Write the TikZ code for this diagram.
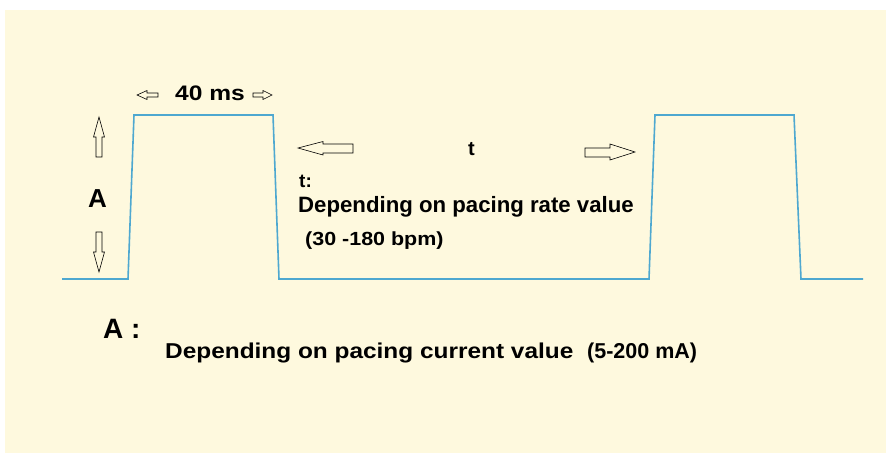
\documentclass[tikz,border=0pt]{standalone}
\usepackage{graphicx}
\usepackage{fontspec}
\setmainfont{Liberation Sans}
\definecolor{bgyellow}{RGB}{254,249,222}
\definecolor{wave}{RGB}{78,168,208}
\tikzset{
  lbl/.style={inner sep=0pt, anchor=base west, font=\bfseries},
  harr/.style={draw=black, line width=0.6pt, fill=bgyellow, line join=miter},
  wavel/.style={draw=wave, line width=1.6pt, line join=miter}
}
\newcommand{\fsz}[1]{\fontsize{#1}{#1}\selectfont}
\newcommand{\wide}[2]{\scalebox{#1}[1]{#2}}
\begin{document}
\begin{tikzpicture}[x=1pt,y=-1pt]
\useasboundingbox (0,0) rectangle (886,459);
\fill[white] (0,0) rectangle (886,459);
\fill[bgyellow] (5,10) rectangle (886,453);
% waveform
\draw[wavel] (62,279) -- (128,279) -- (134,115) -- (273,115) -- (279,279)
  -- (649,279) -- (655,115) -- (794,115) -- (801,279) -- (863,279);
% small arrows around 40 ms
\draw[harr] (137,95) -- (147,90.5) -- (147,93) -- (158,93) -- (158,97) -- (147,97) -- (147,99.5) -- cycle;
\draw[harr] (272,95) -- (263,90.5) -- (263,93) -- (253,93) -- (253,97) -- (263,97) -- (263,99.5) -- cycle;
\node[lbl, font=\bfseries\fsz{21}] (w40) at (175,100) {\wide{1.17}{40 ms}};
% vertical arrows for A
\draw[harr] (99,117) -- (93.5,137) -- (96,137) -- (96,157) -- (102,157) -- (102,137) -- (104.5,137) -- cycle;
\draw[harr] (99,272) -- (93.5,252) -- (96,252) -- (96,232) -- (102,232) -- (102,252) -- (104.5,252) -- cycle;
\node[lbl, font=\bfseries\fsz{26}] (amp) at (88,207) {A};
% big horizontal arrows for t
\draw[harr] (298,148) -- (323,141.5) -- (323,144) -- (353,144) -- (353,153) -- (323,153) -- (323,155) -- cycle;
\draw[harr] (635,152) -- (610,144) -- (610,148) -- (585,148) -- (585,157) -- (610,157) -- (610,160) -- cycle;
\node[lbl, font=\bfseries\fsz{20}] (tper) at (468,155) {t};
\node[lbl, font=\bfseries\fsz{19}] (tcol) at (299,187) {t:};
\node[lbl, font=\bfseries\fsz{22.2}] (rate) at (298,212.5) {Depending on pacing rate value};
\node[lbl, font=\bfseries\fsz{19}] (bpm) at (305,245) {\wide{1.13}{(30 -180 bpm)}};
% A description
\node[lbl, font=\bfseries\fsz{28}] (acol) at (103,338) {A :};
\node[lbl, font=\bfseries\fsz{21.5}] (curr) at (165,358) {\wide{1.135}{Depending on pacing current value}};
\node[lbl, font=\bfseries\fsz{21.5}] (ma) at (587,358) {(5-200 mA)};
\end{tikzpicture}
\end{document}
